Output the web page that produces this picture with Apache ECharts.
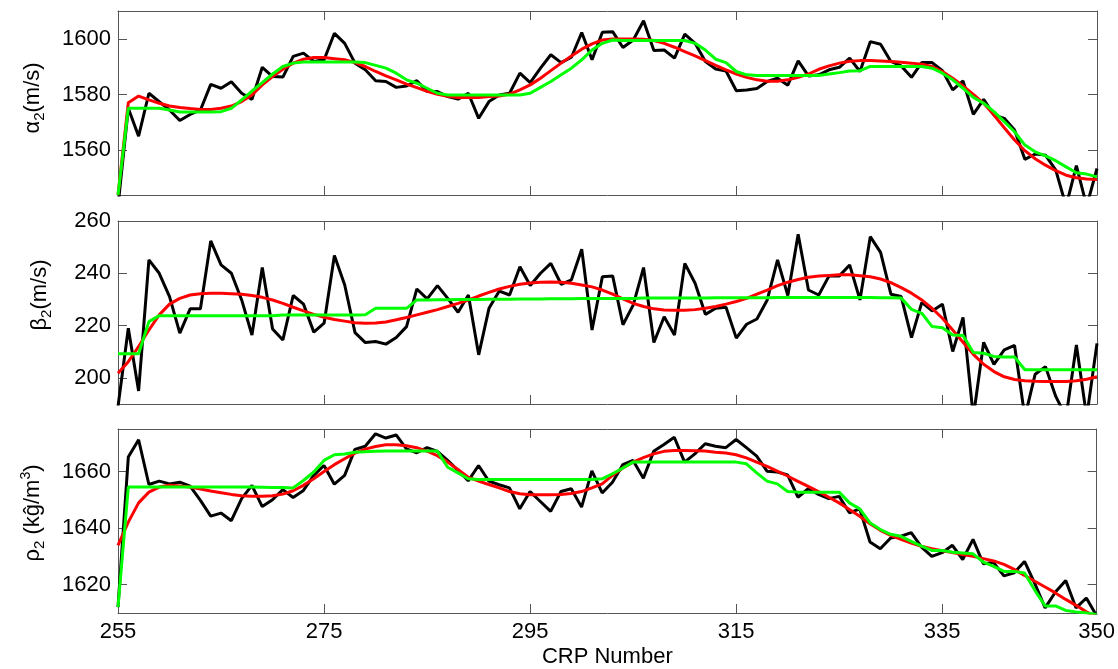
<!DOCTYPE html>
<html>
<head>
<meta charset="utf-8">
<script src="https://cdn.jsdelivr.net/npm/echarts@6.0.0/dist/echarts.min.js"></script>
<style>
html,body{margin:0;padding:0;background:#fff;}
#chart{width:1118px;height:669px;}
</style>
</head>
<body>
<div id="chart"></div>
<script>
const crp = [255,256,257,258,259,260,261,262,263,264,265,266,267,268,269,270,271,272,273,274,275,276,277,278,279,280,281,282,283,284,285,286,287,288,289,290,291,292,293,294,295,296,297,298,299,300,301,302,303,304,305,306,307,308,309,310,311,312,313,314,315,316,317,318,319,320,321,322,323,324,325,326,327,328,329,330,331,332,333,334,335,336,337,338,339,340,341,342,343,344,345,346,347,348,349,350];
const xTicks = [255,275,295,315,335,350];

// Panel 1: alpha2 (m/s)
const alphaMeasured = [1540,1575.1,1565.1,1580.5,1577.5,1574.5,1570.7,1572.9,1574.5,1583.7,1582.3,1584.6,1580.5,1578.3,1589.8,1586.5,1586.3,1593.7,1594.9,1591.9,1592.5,1602.0,1598.4,1591.3,1588.9,1585.0,1584.7,1582.6,1583.1,1585.0,1581.1,1581.1,1579.3,1578.4,1580.5,1571.5,1577.5,1579.9,1580.5,1587.7,1584.3,1589.5,1594.3,1591.5,1593.4,1602.3,1592.5,
1602.4,1602.6,1596.9,1599.6,1606.5,1595.8,1596.0,1593.1,1601.7,1598.4,1591.9,1589.2,1588.5,1581.4,1581.7,1582.2,1584.7,1585.9,1583.4,1592.1,1586.7,1587.1,1588.9,1589.8,1593.1,1588.3,1599.0,1598.1,1591.9,1590.3,1586.2,1591.5,1591.5,1588.6,1581.7,1584.9,1572.9,1578.3,1572.7,1571.5,1567.3,1556.8,1558.7,1558.3,1552.9,1540,1554.5,1540,1553.5];
const alphaSmooth = [1544,1577.1,1579.5,1578.1,1576.9,1575.9,1575.4,1575.0,1574.7,1574.7,1575.1,1575.9,1577.5,1579.9,1583.5,1586.5,1589.1,1591.3,1592.7,1593.3,1593.3,1592.9,1592.5,1591.5,1590.1,1588.3,1586.7,1585.3,1583.8,1582.5,1581.2,1580.1,1579.4,1579.0,1579.0,1579.0,1579.3,1579.5,1580.2,1581.7,1583.5,1585.9,1588.6,1591.3,1593.9,1596.3,1598.2,
1599.6,1600,1600,1600,1599.9,1599.4,1598.4,1597.0,1595.4,1593.9,1592.2,1590.5,1588.9,1587.4,1586.2,1585.3,1584.8,1584.8,1585.3,1586.2,1587.4,1589.1,1590.3,1591.3,1592.0,1592.2,1592.2,1592.1,1591.9,1591.6,1591.3,1590.9,1590.1,1588.3,1585.9,1583.1,1580.1,1576.9,1572.7,1568.1,1563.7,1559.9,1557.0,1554.7,1552.7,1551.1,1550.2,1549.7,1549.6];
const alphaStep = [1544,1575.1,1575.1,1575.1,1575.1,1574.5,1573.8,1573.8,1573.8,1573.8,1573.9,1575.1,1578.1,1581.3,1584.3,1587.4,1590.1,1591.3,1591.7,1591.7,1591.7,1591.7,1591.7,1591.7,1591.5,1590.5,1589.5,1587.7,1585.3,1584.1,1582.3,1580.5,1579.9,1579.9,1579.9,1579.9,1579.9,1579.9,1579.9,1579.9,1580.5,1582.6,1584.7,1587.1,1589.5,1592.5,1596.0,
1598.4,1599.6,1599.4,1599.4,1599.4,1599.4,1599.4,1599.4,1599.4,1598.4,1596.0,1592.7,1591.5,1588.3,1587.1,1586.9,1586.9,1586.9,1586.9,1586.9,1586.9,1586.9,1587.4,1587.9,1588.5,1588.6,1590.1,1590.1,1590.1,1590.1,1590.1,1590.1,1589.5,1587.7,1585.3,1582.3,1579.0,1576.9,1573.9,1570.3,1566.7,1561.9,1559.5,1558.0,1556.3,1554.1,1552.0,1551.5,1550.5];
const alphaTicks = [1560,1580,1600];

// Panel 2: beta2 (m/s)
const betaMeasured = [189,219.0,195.0,245.1,240.0,231.1,217.1,226.4,226.4,252.4,243.2,240.0,229.8,216.4,242.2,218.7,214.5,231.5,228.2,217.5,220.9,246.8,235.5,217.3,213.5,213.9,212.9,215.4,219.6,234.0,230.2,235.3,230.4,225.1,231.7,208.8,226.6,233.2,231.7,242.5,235.3,240.0,243.8,235.8,237.5,249.2,218.3,
238.7,239.0,220.3,227.9,242.2,213.5,223.4,216.4,243.8,236.2,224.3,226.6,227.0,215.2,220.5,222.5,229.8,245.1,231.5,254.9,233.6,231.7,239.0,239.0,243.2,229.8,254.0,248.0,232.0,231.1,215.4,228.9,225.6,228.2,210.1,223.1,185,213.6,205.2,210.7,212.4,185,201.4,204.3,192.9,185,212.6,185,213.2];
const betaSmooth = [201.8,206.2,212.0,218.3,224.1,228.2,230.4,231.7,232.2,232.4,232.4,232.2,232.0,231.5,230.8,229.8,228.5,227.0,225.6,224.3,223.2,222.3,221.7,221.1,220.9,221.0,221.4,222.2,223.1,224.1,225.1,226.1,227.3,228.5,229.8,231.3,232.7,234.0,235.0,235.8,236.3,236.6,236.7,236.6,236.2,235.5,234.8,
233.6,232.0,230.2,228.5,227.3,226.4,226.0,225.9,225.9,226.1,226.6,227.3,228.2,229.2,230.4,232.0,233.6,235.3,236.6,237.6,238.5,239.0,239.2,239.4,239.4,239.1,238.7,237.8,236.4,234.5,232.4,229.8,226.6,222.8,218.3,213.6,209.0,205.2,202.4,200.4,199.4,198.9,198.7,198.6,198.6,198.6,198.9,199.5,200.4];
const betaStep = [209.2,209.2,209.2,221.5,223.8,223.8,223.8,223.8,223.8,223.8,223.8,223.8,223.8,223.8,223.8,223.8,224.0,224.0,224.0,224.0,224.0,224.0,224.0,224.0,224.1,226.6,226.6,226.6,226.6,229.8,229.8,229.9,229.9,230.0,230.0,230.0,230.1,230.1,230.1,230.2,230.2,230.2,230.3,230.3,230.3,230.4,230.4,
230.4,230.4,230.4,230.4,230.5,230.5,230.5,230.5,230.5,230.5,230.5,230.6,230.6,230.6,230.6,230.6,230.6,230.7,230.7,230.7,230.7,230.7,230.7,230.7,230.7,230.7,230.7,230.6,230.6,230.5,226.2,224.7,219.6,219.2,216.4,216.2,209.7,209.4,208.2,208.0,208.0,203.1,203.1,203.1,203.1,203.1,203.1,203.1,203.1];
const betaTicks = [200,220,240,260];

// Panel 3: rho2 (kg/m^3)
const rhoMeasured = [1612.1,1665.1,1671.2,1655.4,1656.6,1655.6,1656.2,1654.8,1649.8,1644.2,1645.3,1642.6,1650.4,1655.1,1647.6,1650.0,1653.6,1650.8,1653.3,1658.6,1662.1,1655.5,1658.6,1667.8,1668.9,1673.3,1671.8,1672.9,1668.0,1666.6,1668.4,1667.1,1663.9,1660.4,1656.7,1662.1,1656.6,1655.3,1654.2,1646.8,1652.9,1649.4,1645.9,1652.9,1653.9,1647.4,1660.2,
1652.4,1656.2,1662.4,1663.9,1657.6,1667.1,1669.5,1672.1,1663.3,1666.2,1669.8,1668.9,1668.4,1671.3,1668.4,1665.4,1660.1,1659.8,1658.8,1650.9,1653.9,1651.9,1650.4,1651.2,1645.4,1646.8,1635.1,1632.7,1636.5,1637.1,1638.4,1633.3,1630.0,1631.3,1633.9,1628.9,1636.0,1627.4,1627.8,1623.1,1624.2,1628.2,1620.4,1611.8,1617.4,1621.5,1611.8,1615.3,1609.0];
const rhoSmooth = [1633.9,1642.1,1648.9,1652.7,1654.5,1655.1,1654.9,1654.5,1653.8,1653.1,1652.5,1651.9,1651.4,1651.2,1651.2,1651.4,1652.0,1653.2,1655.1,1657.4,1660.0,1662.4,1664.5,1666.5,1667.9,1668.8,1669.4,1669.4,1669.1,1668.4,1667.2,1665.6,1663.3,1660.7,1658.0,1656.6,1655.4,1654.2,1652.9,1652.1,1651.8,1651.8,1651.8,1651.9,1652.2,1652.9,1654.2,
1655.6,1658.6,1661.2,1663.3,1664.9,1666.2,1667.1,1667.4,1667.4,1667.3,1667.2,1666.8,1666.5,1665.9,1664.8,1663.3,1661.8,1660.1,1658.4,1656.5,1654.7,1652.9,1650.9,1648.9,1646.6,1644.2,1641.5,1639.2,1637.4,1636.0,1634.7,1633.6,1632.7,1632.0,1631.4,1630.7,1630.0,1629.2,1628.4,1627.2,1625.4,1623.3,1621.2,1619.2,1617.1,1614.8,1612.7,1610.4,1608.6];
const rhoStep = [1612.1,1654.5,1654.5,1654.5,1654.5,1654.5,1654.5,1654.5,1654.5,1654.5,1654.5,1654.5,1654.5,1654.5,1654.4,1654.3,1654.3,1654.2,1656.8,1659.8,1663.9,1665.9,1666.2,1666.8,1667.0,1667.1,1667.2,1667.2,1667.2,1667.2,1667.2,1667.2,1661.5,1659.5,1657.4,1657.2,1657.2,1657.2,1657.2,1657.2,1657.2,1657.2,1657.2,1657.2,1657.2,1657.2,1657.2,
1657.4,1659.2,1661.2,1663.3,1663.3,1663.3,1663.3,1663.3,1663.3,1663.3,1663.3,1663.3,1663.3,1663.3,1662.7,1659.5,1656.6,1655.6,1652.9,1652.7,1652.7,1652.7,1652.7,1652.7,1648.9,1646.8,1641.9,1639.5,1637.8,1637.1,1635.3,1633.6,1632.1,1632.1,1631.5,1631.2,1630.9,1628.0,1626.5,1624.7,1624.7,1624.1,1618.0,1612.5,1612.5,1610.9,1610.4,1610.0,1609.5];
const rhoTicks = [1620,1640,1660];

const FONT = "'Liberation Sans', Arial, Helvetica, sans-serif";
const BOX = '#555555';

const panels = [
  {meas: alphaMeasured, smooth: alphaSmooth, step: alphaStep, ticks: alphaTicks, min: 1544, max: 1610, top: 11, height: 184},
  {meas: betaMeasured, smooth: betaSmooth, step: betaStep, ticks: betaTicks, min: 190, max: 260, top: 221, height: 183},
  {meas: rhoMeasured, smooth: rhoSmooth, step: rhoStep, ticks: rhoTicks, min: 1610, max: 1675, top: 429, height: 184}
];

function pairs(vals) { return crp.map((c, i) => [c, vals[i]]); }
const plain = v => String(v);

const grid = [], xAxis = [], yAxis = [], series = [];
panels.forEach((p, k) => {
  grid.push({left: 118, right: 21, top: p.top, height: p.height, containLabel: false});
});
// bottom x axes
panels.forEach((p, k) => {
  const last = k === panels.length - 1;
  xAxis.push({
    type: 'value', gridIndex: k, min: 255, max: 350, position: 'bottom',
    axisLine: {show: true, onZero: false, lineStyle: {color: BOX, width: 1}},
    axisTick: {show: true, inside: true, length: 9, customValues: xTicks, lineStyle: {color: BOX}},
    axisLabel: {show: last, customValues: xTicks, formatter: plain, margin: 8, color: '#000', fontSize: 22, fontFamily: FONT},
    splitLine: {show: false},
    name: last ? 'CRP Number' : '', nameLocation: 'middle', nameGap: 33,
    nameTextStyle: {color: '#000', fontSize: 22, fontFamily: FONT}
  });
});
// top x axes (mirror)
panels.forEach((p, k) => {
  xAxis.push({
    type: 'value', gridIndex: k, min: 255, max: 350, position: 'top',
    axisLine: {show: true, onZero: false, lineStyle: {color: BOX, width: 1}},
    axisTick: {show: true, inside: true, length: 9, customValues: xTicks, lineStyle: {color: BOX}},
    axisLabel: {show: false}, splitLine: {show: false}
  });
});
// left y axes
panels.forEach((p, k) => {
  yAxis.push({
    type: 'value', gridIndex: k, min: p.min, max: p.max, position: 'left',
    axisLine: {show: true, onZero: false, lineStyle: {color: BOX, width: 1}},
    axisTick: {show: true, inside: true, length: 9, customValues: p.ticks, lineStyle: {color: BOX}},
    axisLabel: {show: true, customValues: p.ticks, formatter: plain, margin: 7, color: '#000', fontSize: 22, fontFamily: FONT},
    splitLine: {show: false}
  });
});
// right y axes (mirror)
panels.forEach((p, k) => {
  yAxis.push({
    type: 'value', gridIndex: k, min: p.min, max: p.max, position: 'right',
    axisLine: {show: true, onZero: false, lineStyle: {color: BOX, width: 1}},
    axisTick: {show: true, inside: true, length: 9, customValues: p.ticks, lineStyle: {color: BOX}},
    axisLabel: {show: false}, splitLine: {show: false}
  });
});
panels.forEach((p, k) => {
  const base = {type: 'line', xAxisIndex: k, yAxisIndex: k, showSymbol: false, symbol: 'none', clip: true, animation: false, silent: true};
  series.push(Object.assign({}, base, {data: pairs(p.meas), lineStyle: {color: '#000000', width: 3}, z: 2}));
  series.push(Object.assign({}, base, {data: pairs(p.smooth), lineStyle: {color: '#ff0000', width: 3}, z: 3}));
  series.push(Object.assign({}, base, {data: pairs(p.step), lineStyle: {color: '#00ff00', width: 3}, z: 4}));
});

const rich = {
  a: {fontSize: 22, fontFamily: FONT, color: '#000', lineHeight: 28},
  s: {fontSize: 15, fontFamily: FONT, color: '#000', verticalAlign: 'bottom', lineHeight: 14},
  p: {fontSize: 14, fontFamily: FONT, color: '#000', verticalAlign: 'top', lineHeight: 14}
};
function yTitle(text, x, y) {
  return {type: 'text', x: x, y: y, rotation: Math.PI / 2,
    style: {text: text, rich: rich, align: 'center', verticalAlign: 'middle', fill: '#000', font: '22px ' + FONT}};
}

const chart = echarts.init(document.getElementById('chart'), null, {renderer: 'canvas'});
chart.setOption({
  animation: false,
  backgroundColor: '#ffffff',
  grid: grid, xAxis: xAxis, yAxis: yAxis, series: series,
  graphic: [
    yTitle('{a|α}{s|2}{a|(m/s)}', 33, 98),
    yTitle('{a|β}{s|2}{a|(m/s)}', 40, 295),
    yTitle('{a|ρ}{s|2}{a| (kĝ/m}{p|3}{a|)}', 33, 513)
  ]
});
</script>
</body>
</html>
